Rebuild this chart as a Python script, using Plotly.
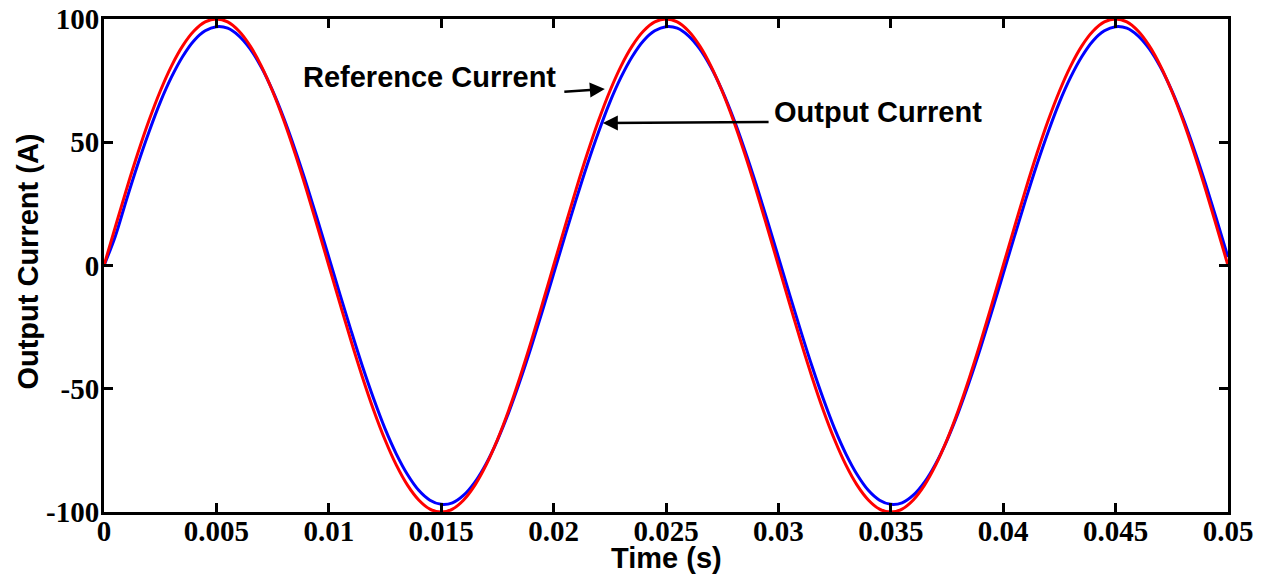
import plotly.graph_objects as go

# time samples (s), step 0.5 ms
time_s = [round(i * 0.0005, 4) for i in range(101)]

reference_current = [
    0, 15.6, 30.9, 45.4, 58.8, 70.7, 80.9, 89.1, 95.1, 98.8,
    100, 98.8, 95.1, 89.1, 80.9, 70.7, 58.8, 45.4, 30.9, 15.6,
    0, -15.6, -30.9, -45.4, -58.8, -70.7, -80.9, -89.1, -95.1, -98.8,
    -100, -98.8, -95.1, -89.1, -80.9, -70.7, -58.8, -45.4, -30.9, -15.6,
    0, 15.6, 30.9, 45.4, 58.8, 70.7, 80.9, 89.1, 95.1, 98.8,
    100, 98.8, 95.1, 89.1, 80.9, 70.7, 58.8, 45.4, 30.9, 15.6,
    0, -15.6, -30.9, -45.4, -58.8, -70.7, -80.9, -89.1, -95.1, -98.8,
    -100, -98.8, -95.1, -89.1, -80.9, -70.7, -58.8, -45.4, -30.9, -15.6,
    0, 15.6, 30.9, 45.4, 58.8, 70.7, 80.9, 89.1, 95.1, 98.8,
    100, 98.8, 95.1, 89.1, 80.9, 70.7, 58.8, 45.4, 30.9, 15.6,
    0,
]

output_current = [
    0, 11.8, 26.7, 41.0, 54.2, 66.2, 76.4, 84.8, 91.2, 95.2,
    96.9, 96.3, 93.2, 87.9, 80.4, 70.9, 59.7, 47.0, 33.2, 18.5,
    3.4, -11.8, -26.7, -41.0, -54.2, -66.2, -76.4, -84.8, -91.2, -95.2,
    -96.9, -96.3, -93.2, -87.9, -80.4, -70.9, -59.7, -47.0, -33.2, -18.5,
    -3.4, 11.8, 26.7, 41.0, 54.2, 66.2, 76.4, 84.8, 91.2, 95.2,
    96.9, 96.3, 93.2, 87.9, 80.4, 70.9, 59.7, 47.0, 33.2, 18.5,
    3.4, -11.8, -26.7, -41.0, -54.2, -66.2, -76.4, -84.8, -91.2, -95.2,
    -96.9, -96.3, -93.2, -87.9, -80.4, -70.9, -59.7, -47.0, -33.2, -18.5,
    -3.4, 11.8, 26.7, 41.0, 54.2, 66.2, 76.4, 84.8, 91.2, 95.2,
    96.9, 96.3, 93.2, 87.9, 80.4, 70.9, 59.7, 47.0, 33.2, 18.5,
    3.4,
]

x_tick_vals = [0, 0.005, 0.01, 0.015, 0.02, 0.025, 0.03, 0.035, 0.04, 0.045, 0.05]
x_tick_text = ["0", "0.005", "0.01", "0.015", "0.02", "0.025", "0.03", "0.035", "0.04", "0.045", "0.05"]
y_tick_vals = [-100, -50, 0, 50, 100]
y_tick_text = ["-100", "-50", "0", "50", "100"]

fig = go.Figure()
fig.add_trace(go.Scatter(x=time_s, y=output_current, mode="lines", name="Output Current",
                         line=dict(color="#0000ff", width=3, shape="spline")))
fig.add_trace(go.Scatter(x=time_s, y=reference_current, mode="lines", name="Reference Current",
                         line=dict(color="#ff0000", width=3, shape="spline")))

tick_font = dict(family="Liberation Serif", size=29, color="black")
title_font = dict(family="Liberation Sans", size=29, color="black")

fig.update_layout(
    width=1262, height=575,
    margin=dict(l=104, r=34, t=19, b=63, autoexpand=False),
    paper_bgcolor="white", plot_bgcolor="white",
    showlegend=False,
    font=dict(family="Liberation Sans", color="black"),
)
fig.update_xaxes(
    range=[0, 0.05], tickvals=x_tick_vals,
    ticktext=["<b>" + t + "</b>" for t in x_tick_text],
    ticks="inside", ticklen=9, tickwidth=3, tickcolor="black",
    showline=True, linewidth=3, linecolor="black", mirror="allticks",
    showgrid=False, zeroline=False, automargin=False,
    tickfont=tick_font, ticklabelstandoff=-9,
)
fig.update_yaxes(
    range=[-100, 100], tickvals=y_tick_vals,
    ticktext=["<b>" + t + "</b>" for t in y_tick_text],
    ticks="inside", ticklen=9, tickwidth=3, tickcolor="black",
    showline=True, linewidth=3, linecolor="black", mirror="allticks",
    showgrid=False, zeroline=False, automargin=False,
    tickfont=tick_font, ticklabelstandoff=-4,
)

# axis titles
fig.add_annotation(x=0.5, y=-0.093, xref="paper", yref="paper", text="<b>Time (s)</b>",
                   showarrow=False, font=title_font, xanchor="center", yanchor="middle")
fig.add_annotation(x=-0.068, y=0.507, xref="paper", yref="paper", text="<b>Output Current (A)</b>",
                   showarrow=False, font=title_font, textangle=-90,
                   xanchor="center", yanchor="middle")

ann_font = dict(family="Liberation Sans", size=29, color="black")
fig.add_annotation(x=0.01448, y=76.5, xref="x", yref="y", text="<b>Reference Current</b>",
                   showarrow=False, font=ann_font)
fig.add_annotation(x=0.03445, y=62.3, xref="x", yref="y", text="<b>Output Current</b>",
                   showarrow=False, font=ann_font)
fig.add_annotation(x=0.02228, y=71.6, ax=0.02041, ay=70.4, xref="x", yref="y",
                   axref="x", ayref="y", text="", showarrow=True,
                   arrowhead=2, arrowsize=1.2, arrowwidth=2.5, arrowcolor="black")
fig.add_annotation(x=0.02219, y=57.8, ax=0.02963, ay=58.2, xref="x", yref="y",
                   axref="x", ayref="y", text="", showarrow=True,
                   arrowhead=2, arrowsize=1.2, arrowwidth=2.5, arrowcolor="black")

fig.write_html("out.html", config={"displayModeBar": False},
               post_script="document.body.style.margin='0';document.body.style.padding='0';")
